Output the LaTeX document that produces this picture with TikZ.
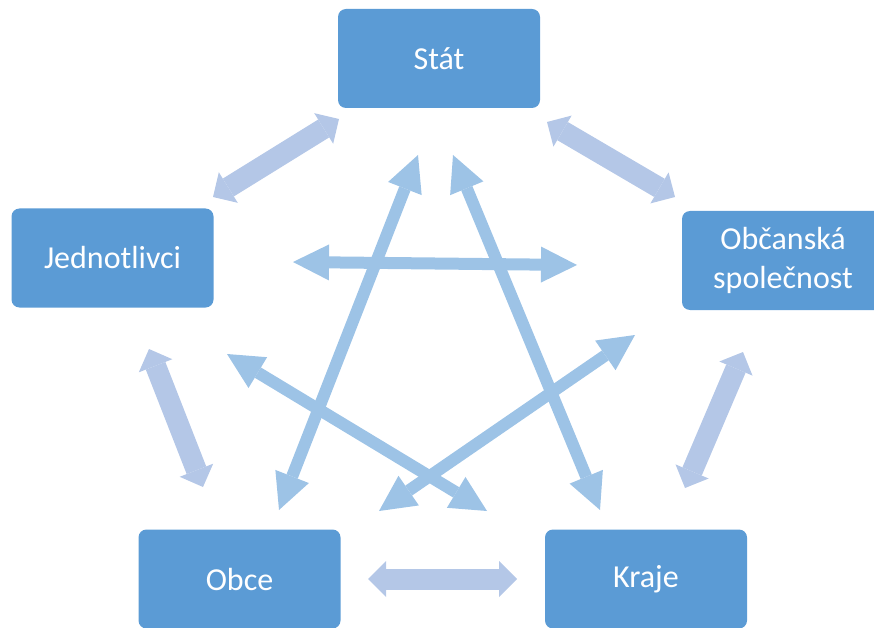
\documentclass[tikz,border=0pt]{standalone}
\usepackage{fontspec}
\setmainfont{Carlito}
\usetikzlibrary{arrows.meta}
\definecolor{boxblue}{HTML}{5B9BD5}
\definecolor{outerblue}{HTML}{B4C7E7}
\definecolor{innerblue}{HTML}{9DC3E6}

\begin{document}
\begin{tikzpicture}[x=1pt,y=-1pt,
	box/.style={rectangle,rounded corners=8pt,fill=boxblue,text=white,minimum width=202pt,minimum height=99pt,align=center,font=\fontsize{32}{39}\selectfont},
	outer/.style={draw=outerblue,line width=21pt,{Triangle[width=36pt,length=18pt,line width=0pt]}-{Triangle[width=36pt,length=18pt,line width=0pt]}},
	inner/.style={draw=innerblue,line width=12pt,{Triangle[width=36pt,length=36pt,line width=0pt]}-{Triangle[width=36pt,length=36pt,line width=0pt]}}]
\useasboundingbox (0,0) rectangle (874,628);
\node [box] (s) at (439,58.5) {Stát};
\node [box] (j) at (112.5,258) {Jednotlivci};
\node [box] (os) at (783,260.5) {Občanská\\společnost};
\node [box] (o) at (239.5,579) {Obce};
\node [box] (k) at (646,579) {Kraje};
% konce sipek
\coordinate (s1) at (339,119); \coordinate (j1) at (213,197);
\coordinate (s2) at (547,122); \coordinate (os1) at (675,197);
\coordinate (j2) at (149,349); \coordinate (o1) at (203,487);
\coordinate (os2) at (743,352); \coordinate (k1) at (685,488);
\coordinate (o2) at (368,579); \coordinate (k2) at (517,579);
\coordinate (o3) at (279,510); \coordinate (s3) at (418,155);
\coordinate (s4) at (453,155); \coordinate (k3) at (600,510);
\coordinate (j3) at (293,262); \coordinate (os3) at (577,265);
\coordinate (j4) at (227,354); \coordinate (k4) at (487,511);
\coordinate (o4) at (379,511); \coordinate (os4) at (635,335);
% vnejsi
\draw [outer] (s1) -- (j1);
\draw [outer] (s2) -- (os1);
\draw [outer] (j2) -- (o1);
\draw [outer] (os2) -- (k1);
\draw [outer] (o2) -- (k2);
% vnitrni
\draw [inner] (o3) -- (s3);
\draw [inner] (s4) -- (k3);
\draw [inner] (j3) -- (os3);
\draw [inner] (j4) -- (k4);
\draw [inner] (o4) -- (os4);
\end{tikzpicture}
\end{document}
